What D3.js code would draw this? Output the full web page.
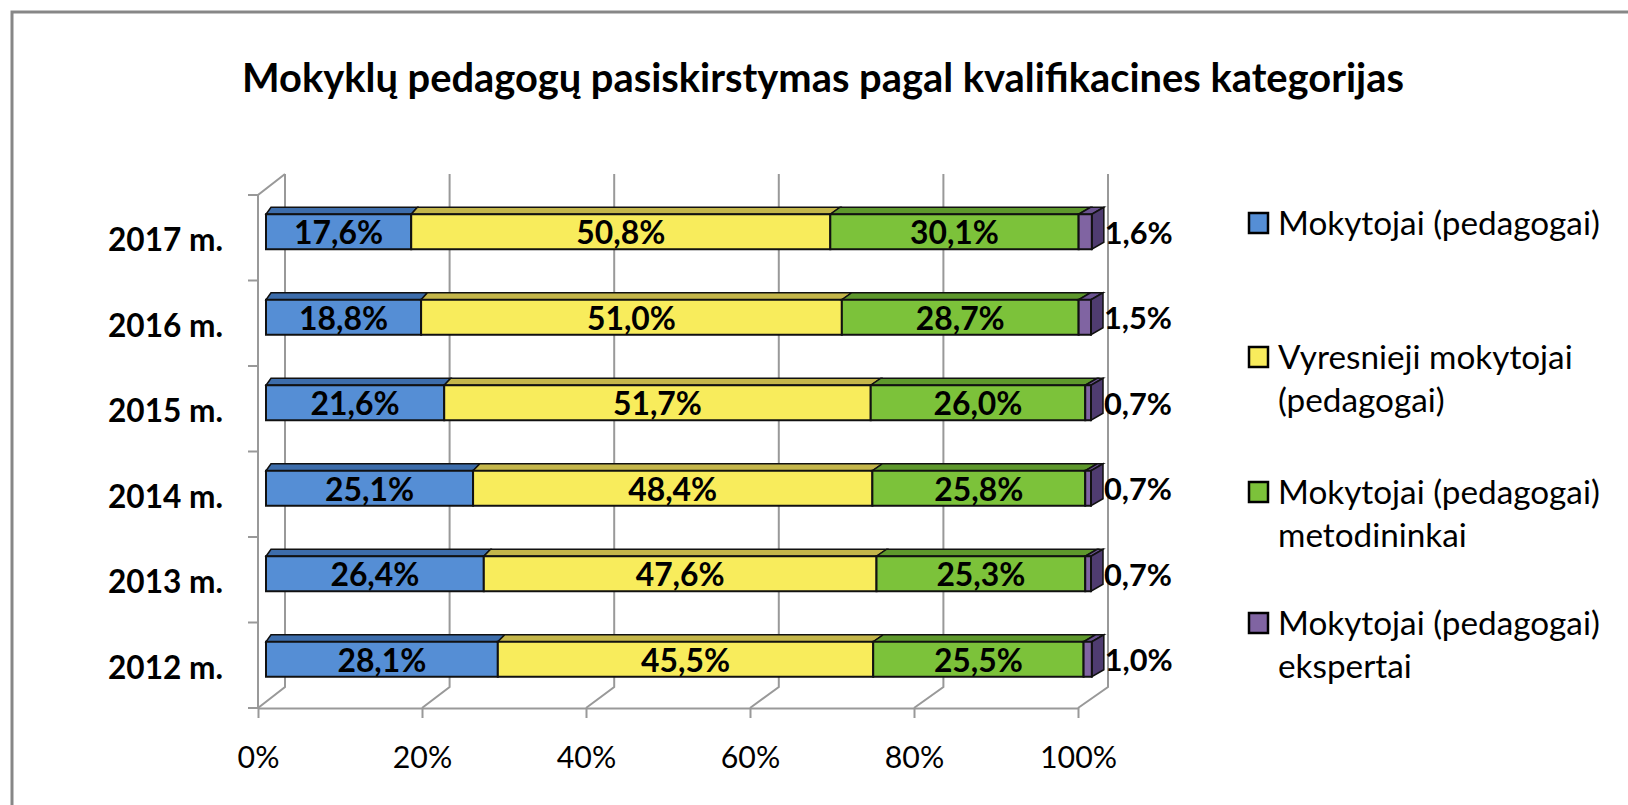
<!DOCTYPE html>
<html>
<head>
<meta charset="utf-8">
<script src="https://cdn.jsdelivr.net/npm/d3@7"></script>
<style>
  body { margin: 0; background: #fff; }
  svg { display: block; }
</style>
</head>
<body>
<div class="box"></div>
<script>
// data
let years = ['2017 m.', '2016 m.', '2015 m.', '2014 m.', '2013 m.', '2012 m.']
let mokytojai = [17.6, 18.8, 21.6, 25.1, 26.4, 28.1]
let vyresnieji = [50.8, 51.0, 51.7, 48.4, 47.6, 45.5]
let metodininkai = [30.1, 28.7, 26.0, 25.8, 25.3, 25.5]
let ekspertai = [1.6, 1.5, 0.7, 0.7, 0.7, 1.0]
let ticks = [0, 20, 40, 60, 80, 100]
let seriesNames = [
    ['Mokytojai (pedagogai)'],
    ['Vyresnieji mokytojai', '(pedagogai)'],
    ['Mokytojai (pedagogai)', 'metodininkai'],
    ['Mokytojai (pedagogai)', 'ekspertai']
]
let title = 'Mokyklų pedagogų pasiskirstymas pagal kvalifikacines kategorijas'

let W = 1628, H = 805
let font = 'Lato, "Noto Sans", sans-serif'
let front = ['#558ed5', '#f8ec5c', '#7cc23a', '#8064a2']
let topc = ['#3d6dab', '#c4b64a', '#5e982c', '#6a5290']
let sidec = '#4f3c70'
let grid = '#999999'

let svg = d3.select('.box')
    .append('svg')
    .attr('width', W)
    .attr('height', H)

svg.append('rect')
    .attr('x', 12).attr('y', 12)
    .attr('width', 1640).attr('height', 900)
    .style('fill', '#fff')
    .style('stroke', '#878787')
    .style('stroke-width', 3)

// font size that makes sample text reach a width
let fitSize = (txt, weight, target) => {
    let t = svg.append('text')
        .attr('font-family', font).attr('font-weight', weight)
        .attr('font-size', 100).text(txt)
    let w = t.node().getComputedTextLength()
    t.remove()
    return 100 * target / w
}

let fmt = d => d3.format('.1f')(d).replace('.', ',') + '%'

// scales: front floor plane, back wall, bar plane
let floorY = 708
let wallTop = 195
let DX = 27, DY = -21
let xf = d3.scaleLinear().domain([0, 100]).range([258, 1078])
let xb = d3.scaleLinear().domain([0, 100]).range([285, 1108])
let xbar = d3.scaleLinear().domain([0, 100]).range([266, 1091])
let y = d3.scaleBand().domain(years).range([wallTop, floorY]).padding(0)
let depth = d3.scaleLinear().domain([266, 1091]).range([5, 12])

// walls and gridlines
let g = svg.append('g').style('stroke', grid).style('stroke-width', 2).style('fill', 'none')
ticks.forEach(t => {
    g.append('path').attr('d', `M${xb(t)},${wallTop + DY}V${floorY + DY}L${xf(t)},${floorY}`)
})
g.append('path').attr('d', `M${xf(0)},${floorY}V${wallTop}L${xb(0)},${wallTop + DY}`)

// category ticks on left front edge
let bounds = years.map(d => y(d)).concat([floorY])
bounds.forEach(b => {
    g.append('line').attr('x1', xf(0) - 10).attr('x2', xf(0)).attr('y1', b).attr('y2', b)
})

// x axis along the front floor edge
let ax = svg.append('g')
    .attr('transform', `translate(0,${floorY})`)
    .call(d3.axisBottom(xf).tickValues(ticks).tickFormat(d => d + '%').tickSize(10).tickSizeOuter(0))
ax.select('.domain').style('stroke', grid).style('stroke-width', 2)
ax.selectAll('.tick line').style('stroke', grid).style('stroke-width', 2)
let axSize = fitSize('100%', 400, 77)
ax.selectAll('.tick text')
    .attr('y', 49).attr('dy', '0.36em')
    .attr('font-family', font).attr('font-size', axSize)
    .style('fill', '#000')

// category labels
let catSize = fitSize('2017 m.', 700, 115)
svg.append('g').selectAll('text').data(years).join('text')
    .attr('x', 223)
    .attr('y', d => y(d) + y.bandwidth() / 2 + 2)
    .attr('dy', '0.36em')
    .attr('text-anchor', 'end')
    .attr('font-family', font).attr('font-weight', 700).attr('font-size', catSize)
    .text(d => d)

// stacked bars
let rows = years.map((yr, i) => ({ yr, a: mokytojai[i], b: vyresnieji[i], c: metodininkai[i], d: ekspertai[i] }))
let keys = ['a', 'b', 'c', 'd']
let stack = d3.stack().keys(keys)(rows)
let bh = 35
let barTop = d => y(d.data.yr) + y.bandwidth() / 2 - 6 - bh / 2

let inSize = fitSize('17,6%', 700, 89)
let outSize = fitSize('1,6%', 700, 68)

let bars = svg.append('g')
stack.forEach((s, k) => {
    s.forEach(p => {
        let x0 = xbar(p[0]), x1 = xbar(p[1]), t = barTop(p), b = t + bh
        let d0 = depth(x0), d1 = depth(x1), dh = 7
        // top face
        bars.append('path')
            .attr('d', `M${x0},${t}L${x1},${t}L${x1 + d1},${t - dh}L${x0 + d0},${t - dh}Z`)
            .style('fill', topc[k]).style('stroke', '#111').style('stroke-width', 1.5)
        // side face on the last segment
        if (k == keys.length - 1) {
            bars.append('path')
                .attr('d', `M${x1},${t}L${x1 + d1},${t - dh}L${x1 + d1},${b - dh}L${x1},${b}Z`)
                .style('fill', sidec).style('stroke', '#111').style('stroke-width', 1.5)
        }
        // front face
        bars.append('rect')
            .attr('x', x0).attr('y', t)
            .attr('width', x1 - x0).attr('height', bh)
            .style('fill', front[k]).style('stroke', '#111').style('stroke-width', 2)
    })
})

// value labels
stack.forEach((s, k) => {
    s.forEach(p => {
        let val = p[1] - p[0]
        let cy = barTop(p) + bh / 2 + 1
        let last = k == keys.length - 1
        bars.append('text')
            .attr('x', last ? xbar(p[1]) + 13 : (xbar(p[0]) + xbar(p[1])) / 2)
            .attr('y', cy)
            .attr('dy', '0.36em')
            .attr('text-anchor', last ? 'start' : 'middle')
            .attr('font-family', font).attr('font-weight', 700)
            .attr('font-size', last ? outSize : inSize)
            .text(fmt(val))
    })
})

// title
svg.append('text')
    .attr('x', 823).attr('y', 92)
    .attr('text-anchor', 'middle')
    .attr('font-family', font).attr('font-weight', 700)
    .attr('font-size', fitSize(title, 700, 1162))
    .text(title)

// legend
let legSize = fitSize('Mokytojai (pedagogai)', 400, 322)
let legY = [223, 357, 492, 623]
let leg = svg.append('g')
seriesNames.forEach((lines, i) => {
    leg.append('rect')
        .attr('x', 1249).attr('y', legY[i] - 10)
        .attr('width', 19).attr('height', 20)
        .style('fill', front[i]).style('stroke', '#000').style('stroke-width', 2.5)
    lines.forEach((ln, j) => {
        leg.append('text')
            .attr('x', 1278).attr('y', legY[i] + j * 43)
            .attr('dy', '0.36em')
            .attr('font-family', font).attr('font-size', legSize)
            .text(ln)
    })
})
</script>
</body>
</html>
